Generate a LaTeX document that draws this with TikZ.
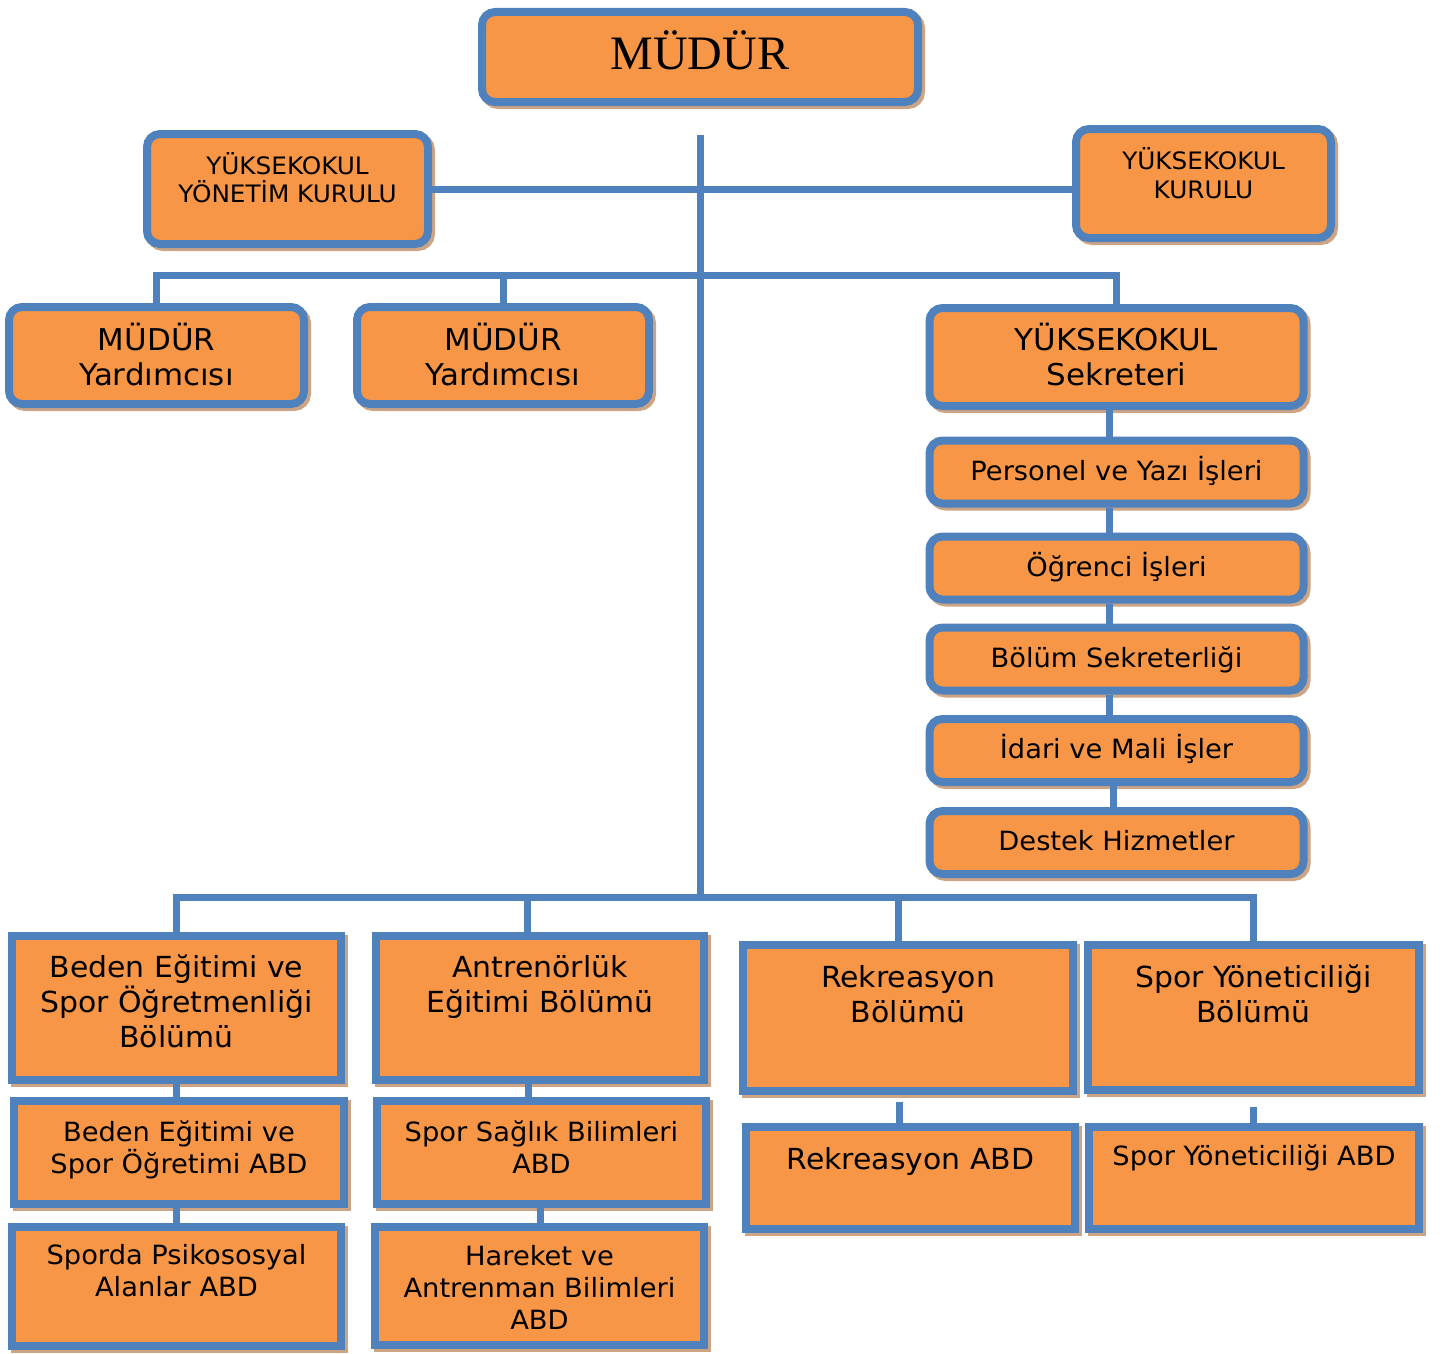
\documentclass[tikz,border=0pt]{standalone}
\usepackage{fontspec}
\setmainfont{DejaVu Sans}[FakeStretch=1.03]
\newfontfamily\tnr{Liberation Serif}
\definecolor{orng}{HTML}{F79646}
\definecolor{blu}{HTML}{4F81BD}
\definecolor{shd}{HTML}{CDA584}
\newcommand\stt{\rule[-0.24em]{0pt}{1.14em}}
\begin{document}
\begin{tikzpicture}[x=1pt,y=-1pt,
  shadowed/.style={preaction={draw=shd, fill=shd, line width=8pt, transform canvas={xshift=3pt,yshift=-3pt}}},
  sqbox/.style={rectangle, draw=blu, fill=orng, line width=8pt, inner sep=0pt, shadowed},
  rbox/.style={sqbox, rounded corners=13pt},
  txt/.style={align=center, inner sep=0pt, text=black},
  conn/.style={draw=blu, line width=7pt},
  fa/.style={font=\fontsize{24}{28.5}\selectfont},
  fb/.style={font=\fontsize{30}{35}\selectfont},
  fc/.style={font=\fontsize{26.5}{32}\selectfont},
  fd/.style={font=\fontsize{29}{35}\selectfont}]
\fill[white] (0,0) rectangle (1446,1354);
\useasboundingbox (0,0) rectangle (1446,1354);

\coordinate (top) at (700,135);
\coordinate (h1) at (700,275);
\coordinate (h2) at (700,897);

% boxes
\node[rbox, minimum width=436, minimum height=90] (m) at (700,57) {};
\node[rbox, minimum width=281, minimum height=110] (yk) at (287.5,189) {};
\node[rbox, minimum width=255, minimum height=109] (kr) at (1203.5,183.5) {};
\node[rbox, minimum width=295, minimum height=97] (my1) at (156.5,355.5) {};
\node[rbox, minimum width=292, minimum height=97] (my2) at (503,355.5) {};
\node[rbox, minimum width=374, minimum height=98] (sek) at (1116.5,357) {};
\node[rbox, minimum width=374, minimum height=63] (p1) at (1116.5,472) {};
\node[rbox, minimum width=374, minimum height=63] (p2) at (1116.5,568) {};
\node[rbox, minimum width=374, minimum height=63] (p3) at (1116.5,659) {};
\node[rbox, minimum width=374, minimum height=63] (p4) at (1116.5,750.5) {};
\node[rbox, minimum width=374, minimum height=63] (p5) at (1116.5,842.5) {};

\node[sqbox, minimum width=329, minimum height=144] (b1) at (176.5,1008) {};
\node[sqbox, minimum width=328, minimum height=144] (b2) at (540,1008) {};
\node[sqbox, minimum width=330, minimum height=146] (b3) at (908,1018) {};
\node[sqbox, minimum width=331, minimum height=145] (b4) at (1253.5,1017.5) {};
\node[sqbox, minimum width=330, minimum height=103] (a1) at (179,1152.5) {};
\node[sqbox, minimum width=329, minimum height=119] (a1b) at (176.5,1286.5) {};
\node[sqbox, minimum width=329, minimum height=103] (a2) at (541.5,1152.5) {};
\node[sqbox, minimum width=329, minimum height=118] (a2b) at (539.5,1286) {};
\node[sqbox, minimum width=329, minimum height=102] (a3) at (910.5,1178) {};
\node[sqbox, minimum width=330, minimum height=102] (a4) at (1254,1178) {};

% connectors
\draw[conn] (top) -- (h2);
\draw[conn] (yk.east) -- (yk.east -| kr.west);
\draw[conn] (my1.north) |- (h1) -| (sek.north);
\draw[conn] (my2.north) -- (my2.north |- h1);
\draw[conn] ([xshift=-7.5pt]sek.south) -- ([xshift=-7.5pt]p1.north);
\draw[conn] ([xshift=-7.5pt]p1.south) -- ([xshift=-7.5pt]p2.north);
\draw[conn] ([xshift=-7.5pt]p2.south) -- ([xshift=-7.5pt]p3.north);
\draw[conn] ([xshift=-7.5pt]p3.south) -- ([xshift=-7.5pt]p4.north);
\draw[conn] ([xshift=-3pt]p4.south) -- ([xshift=-3pt]p5.north);
\draw[conn] (b1.north) |- (h2) -| (b4.north);
\draw[conn] ([xshift=-13pt]b2.north) -- ([xshift=-13pt]b2.north |- h2);
\draw[conn] ([xshift=-9.5pt]b3.north) -- ([xshift=-9.5pt]b3.north |- h2);
\draw[conn] (b1.south) -- (b1.south |- a1.north);
\draw[conn] (a1.south -| a1b.north) -- (a1b.north);
\draw[conn] ([xshift=-12pt]b2.south) -- ([xshift=-12pt]b2.south |- a2.north);
\draw[conn] ([xshift=-1.5pt]a2.south) -- ([xshift=-1.5pt]a2.south |- a2b.north);
\coordinate (c3) at (899,1102);
\coordinate (c4) at (1253,1107);
\draw[conn] (c3) -- (c3 |- a3.north);
\draw[conn] (c4) -- (c4 |- a4.north);

% texts
\node[txt, font=\tnr\fontsize{48}{56}\selectfont] (tm) at (700,50) {MÜDÜR};
\node[txt, fa] (tyk) at (287.5,180.6) {\stt YÜKSEKOKUL\\\stt YÖNETİM KURULU};
\node[txt, fa] (tkr) at (1203.5,175.9) {\stt YÜKSEKOKUL\\\stt KURULU};
\node[txt, fb] (tmy1) at (156.5,358.4) {\stt MÜDÜR\\\stt Yardımcısı};
\node[txt, fb] (tmy2) at (503,358.4) {\stt MÜDÜR\\\stt Yardımcısı};
\node[txt, fb] (tsek) at (1116.5,358.4) {\stt YÜKSEKOKUL\\\stt Sekreteri};
\node[txt, fc] (tp1) at (1116.5,471.5) {\stt Personel ve Yazı İşleri};
\node[txt, fc] (tp2) at (1116.5,567.5) {\stt Öğrenci İşleri};
\node[txt, fc] (tp3) at (1116.5,658.5) {\stt Bölüm Sekreterliği};
\node[txt, fc] (tp4) at (1116.5,750) {\stt İdari ve Mali İşler};
\node[txt, fc] (tp5) at (1116.5,842) {\stt Destek Hizmetler};
\node[txt, fd] (tb1) at (176.5,1002.9) {\stt Beden Eğitimi ve\\\stt Spor Öğretmenliği\\\stt Bölümü};
\node[txt, fd] (tb2) at (540,985.4) {\stt Antrenörlük\\\stt Eğitimi Bölümü};
\node[txt, fd] (tb3) at (908,995.8) {\stt Rekreasyon\\\stt Bölümü};
\node[txt, fd] (tb4) at (1253.5,995) {\stt Spor Yöneticiliği\\\stt Bölümü};
\node[txt, fc] (ta1) at (179,1148.3) {\stt Beden Eğitimi ve\\\stt Spor Öğretimi ABD};
\node[txt, fc] (ta1b) at (176.5,1272.2) {\stt Sporda Psikososyal\\\stt Alanlar ABD};
\node[txt, fc] (ta2) at (541.5,1148.3) {\stt Spor Sağlık Bilimleri\\\stt ABD};
\node[txt, fc] (ta2b) at (539.5,1288.4) {\stt Hareket ve\\\stt Antrenman Bilimleri\\\stt ABD};
\node[txt, fd] (ta3) at (910.5,1159.6) {\stt Rekreasyon ABD};
\node[txt, fc] (ta4) at (1254,1157.2) {\stt Spor Yöneticiliği ABD};
\end{tikzpicture}
\end{document}
